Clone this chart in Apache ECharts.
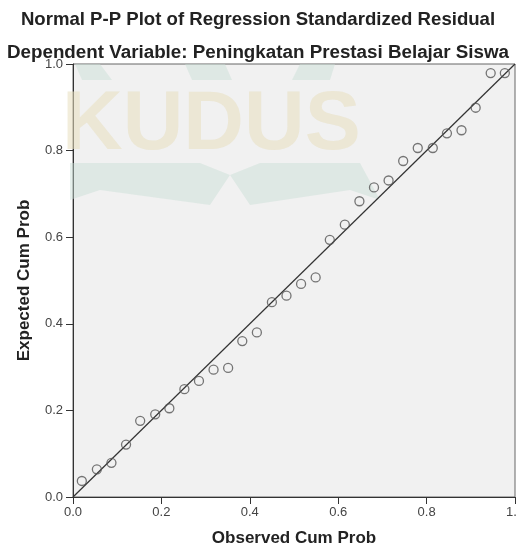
<!DOCTYPE html>
<html>
<head>
<meta charset="utf-8">
<script src="https://cdn.jsdelivr.net/npm/echarts@6/dist/echarts.min.js"></script>
<style>
  html, body { margin: 0; padding: 0; background: #fff; }
</style>
</head>
<body>
<div id="main" style="width: 516px;height:549px;"></div>
<script type="text/javascript">
    // data
    var observedCum = [0.020, 0.054, 0.087, 0.120, 0.152, 0.186, 0.218, 0.252, 0.285, 0.318,
                       0.351, 0.383, 0.416, 0.450, 0.483, 0.516, 0.549, 0.581, 0.615, 0.648,
                       0.681, 0.714, 0.747, 0.780, 0.814, 0.846, 0.879, 0.911, 0.945, 0.977];
    var expectedCum = [0.037, 0.064, 0.079, 0.121, 0.176, 0.191, 0.205, 0.249, 0.268, 0.294,
                       0.298, 0.360, 0.380, 0.450, 0.465, 0.492, 0.507, 0.594, 0.629, 0.683,
                       0.715, 0.731, 0.776, 0.806, 0.806, 0.840, 0.847, 0.899, 0.979, 0.979];
    var diagonal = [[0, 0], [1, 1]];
    var tickLabels = ['0.0', '0.2', '0.4', '0.6', '0.8', '1.0'];

    var points = observedCum.map(function (x, i) { return [x, expectedCum[i]]; });

    var myChart = echarts.init(document.getElementById('main'));

    var font = '"Liberation Sans", Arial, sans-serif';
    var tickFmt = function (v) { return tickLabels[Math.round(v * 5)]; };
    var pale = 'rgba(200,222,212,0.45)';

    var option = {
        animation: false,
        title: [{
            text: 'Normal P-P Plot of Regression Standardized Residual',
            left: 'center', top: 5,
            textStyle: { fontFamily: font, fontSize: 18.6, fontWeight: 'bold', color: '#222' }
        }, {
            text: 'Dependent Variable: Peningkatan Prestasi Belajar Siswa',
            left: 'center', top: 38,
            textStyle: { fontFamily: font, fontSize: 18.8, fontWeight: 'bold', color: '#222' }
        }],
        // faded watermark of the source document
        graphic: [{
            type: 'text', left: 62, top: 84, z: 1, silent: true,
            style: { text: 'KUDUS', fontFamily: font, fontSize: 84, fontWeight: 'bold',
                     fill: 'rgba(232,222,190,0.55)' }
        }, {
            type: 'polygon', z: 1, silent: true,
            shape: { points: [[70, 163], [200, 163], [230, 175], [210, 205], [100, 190], [70, 200]] },
            style: { fill: pale }
        }, {
            type: 'polygon', z: 1, silent: true,
            shape: { points: [[230, 175], [260, 163], [360, 163], [380, 200], [350, 190], [250, 205]] },
            style: { fill: pale }
        }, {
            type: 'polygon', z: 1, silent: true,
            shape: { points: [[75, 64], [100, 64], [112, 80], [82, 80]] },
            style: { fill: pale }
        }, {
            type: 'polygon', z: 1, silent: true,
            shape: { points: [[185, 64], [225, 64], [232, 80], [192, 80]] },
            style: { fill: pale }
        }, {
            type: 'polygon', z: 1, silent: true,
            shape: { points: [[300, 64], [335, 64], [330, 80], [292, 80]] },
            style: { fill: pale }
        }],
        grid: {
            left: 73, top: 64, right: 1, bottom: 52,
            outerBoundsMode: 'none', containLabel: false,
            show: true, backgroundColor: '#f1f1f1', borderColor: '#666', borderWidth: 1
        },
        xAxis: {
            type: 'value', min: 0, max: 1, interval: 0.2,
            name: 'Observed Cum Prob', nameLocation: 'middle', nameGap: 33,
            nameTextStyle: { fontFamily: font, fontSize: 17, fontWeight: 'bold', color: '#222' },
            axisLine: { lineStyle: { color: '#333', width: 1 } },
            axisTick: { show: true, length: 7, lineStyle: { color: '#333' } },
            axisLabel: { fontFamily: font, fontSize: 13, color: '#444', margin: 9, formatter: tickFmt },
            splitLine: { show: false }
        },
        yAxis: {
            type: 'value', min: 0, max: 1, interval: 0.2,
            name: 'Expected Cum Prob', nameLocation: 'middle', nameGap: 40,
            nameTextStyle: { fontFamily: font, fontSize: 17, fontWeight: 'bold', color: '#222' },
            axisLine: { show: true, lineStyle: { color: '#333', width: 1 } },
            axisTick: { show: true, length: 7, lineStyle: { color: '#333' } },
            axisLabel: { fontFamily: font, fontSize: 13, color: '#444', margin: 10, formatter: tickFmt },
            splitLine: { show: false }
        },
        series: [{
            type: 'line', data: diagonal, symbol: 'none', z: 3,
            lineStyle: { color: '#333', width: 1.2 }
        }, {
            type: 'scatter', data: points, symbol: 'circle', symbolSize: 9, z: 4,
            itemStyle: { color: 'rgba(0,0,0,0)', borderColor: '#555', borderWidth: 1.3 }
        }]
    };

    myChart.setOption(option);
</script>
</body>
</html>
